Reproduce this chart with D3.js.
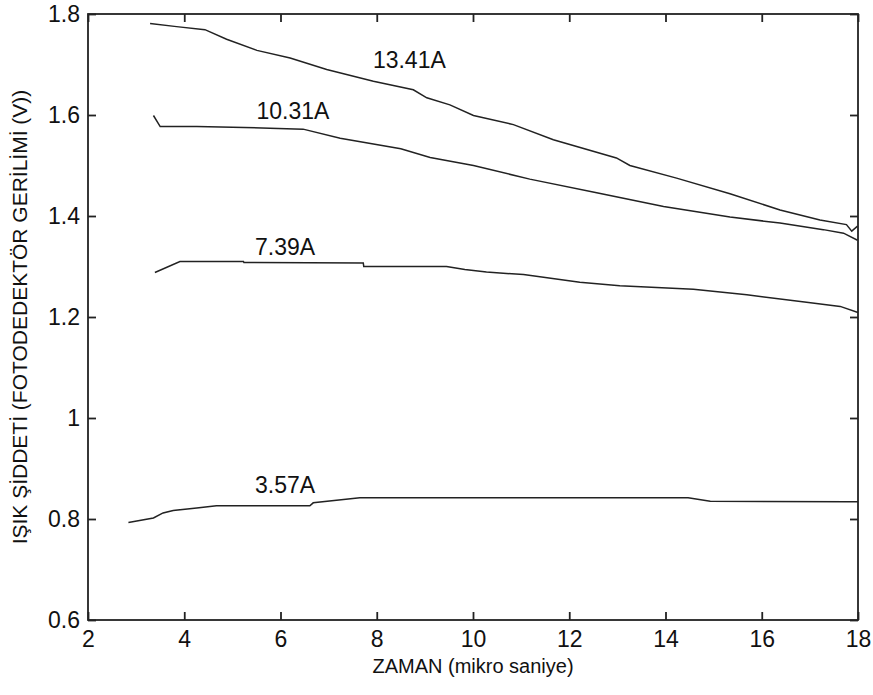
<!DOCTYPE html>
<html><head><meta charset="utf-8">
<script src="https://cdn.jsdelivr.net/npm/d3@7"></script>
<style>body{margin:0;background:#fff}svg{display:block}text{font-family:"Liberation Sans",Arial,sans-serif;fill:#111}</style>
</head><body><svg id="c" width="873" height="695"></svg>
<script>
const xTicks=[2,4,6,8,10,12,14,16,18];
const yTicks=[0.6,0.8,1,1.2,1.4,1.6,1.8];
const yTickLabels=["0.6","0.8","1","1.2","1.4","1.6","1.8"];
const seriesNames=["13.41A","10.31A","7.39A","3.57A"];
const t13=[3.29,3.84,4.43,4.88,5.51,6.20,6.96,7.93,8.76,9.04,9.52,10.01,10.84,11.67,12.98,13.26,14.23,15.34,16.38,17.21,17.76,17.87,17.99];
const v13=[1.781,1.775,1.769,1.750,1.728,1.713,1.690,1.667,1.650,1.634,1.620,1.599,1.581,1.551,1.515,1.500,1.475,1.444,1.412,1.392,1.383,1.370,1.380];
const t10=[3.36,3.50,4.26,5.78,6.47,7.24,8.5,9.11,10.01,11.18,12.57,13.96,15.34,16.38,17.28,17.70,17.99];
const v10=[1.599,1.577,1.577,1.574,1.572,1.554,1.533,1.516,1.500,1.473,1.446,1.419,1.398,1.386,1.373,1.366,1.352];
const t7=[3.39,3.91,5.23,5.24,7.72,7.73,9.45,9.83,10.28,11.05,12.22,13.05,14.58,15.69,16.93,17.63,18.0];
const v7=[1.288,1.310,1.310,1.308,1.307,1.300,1.300,1.294,1.289,1.284,1.269,1.262,1.255,1.244,1.229,1.221,1.209];
const t3=[2.84,3.36,3.56,3.77,4.26,4.67,6.61,6.68,7.65,14.47,14.93,17.8,18.0];
const v3=[0.793,0.802,0.812,0.817,0.822,0.826,0.826,0.832,0.842,0.842,0.835,0.834,0.834];
const labelT=[7.92,5.5,5.47,5.47];
const labelV=[1.694,1.592,1.323,0.852];

const svg=d3.select("#c");
const L=88,R=858,T=14,B=620;
const x=d3.scaleLinear().domain([2,18]).range([L,R]);
const y=d3.scaleLinear().domain([0.6,1.8]).range([B,T]);
const series=[[t13,v13],[t10,v10],[t7,v7],[t3,v3]];
const line=d3.line().x(d=>x(d[0])).y(d=>y(d[1]));
series.forEach(([ts,vs])=>{
  svg.append("path").attr("d",line(ts.map((t,i)=>[t,vs[i]])))
   .attr("fill","none").attr("stroke","#222").attr("stroke-width",1.5);
});
seriesNames.forEach((n,i)=>{
  svg.append("text").attr("x",x(labelT[i])).attr("y",y(labelV[i])).attr("font-size",23).text(n);
});
svg.append("rect").attr("x",L).attr("y",T).attr("width",R-L).attr("height",B-T)
  .attr("fill","none").attr("stroke","#222").attr("stroke-width",1.8);
const tl=8;
const gB=svg.append("g").attr("transform",`translate(0,${B})`)
  .call(d3.axisBottom(x).tickValues(xTicks).tickSizeInner(-tl).tickSizeOuter(0).tickPadding(11).tickFormat(d3.format("d")));
const gT=svg.append("g").attr("transform",`translate(0,${T})`)
  .call(d3.axisTop(x).tickValues(xTicks).tickSizeInner(-tl).tickSizeOuter(0).tickFormat(""));
const gL=svg.append("g").attr("transform",`translate(${L},0)`)
  .call(d3.axisLeft(y).tickValues(yTicks).tickSizeInner(-tl).tickSizeOuter(0).tickPadding(8).tickFormat((d,i)=>yTickLabels[i]));
const gR=svg.append("g").attr("transform",`translate(${R},0)`)
  .call(d3.axisRight(y).tickValues(yTicks).tickSizeInner(-tl).tickSizeOuter(0).tickFormat(""));
[gB,gT,gL,gR].forEach(g=>{
  g.select(".domain").remove();
  g.selectAll(".tick line").attr("stroke","#222").attr("stroke-width",1.8);
  g.selectAll("text").attr("font-size",23).attr("fill","#111").attr("font-family","Liberation Sans, Arial, sans-serif");
});
svg.append("text").attr("x",(L+R)/2).attr("y",673).attr("text-anchor","middle").attr("font-size",20).text("ZAMAN (mikro saniye)");
svg.append("text").attr("transform",`translate(27,${(T+B)/2}) rotate(-90)`).attr("text-anchor","middle").attr("font-size",21).text("IŞIK ŞİDDETİ (FOTODEDEKTÖR GERİLİMİ (V))");
</script></body></html>
